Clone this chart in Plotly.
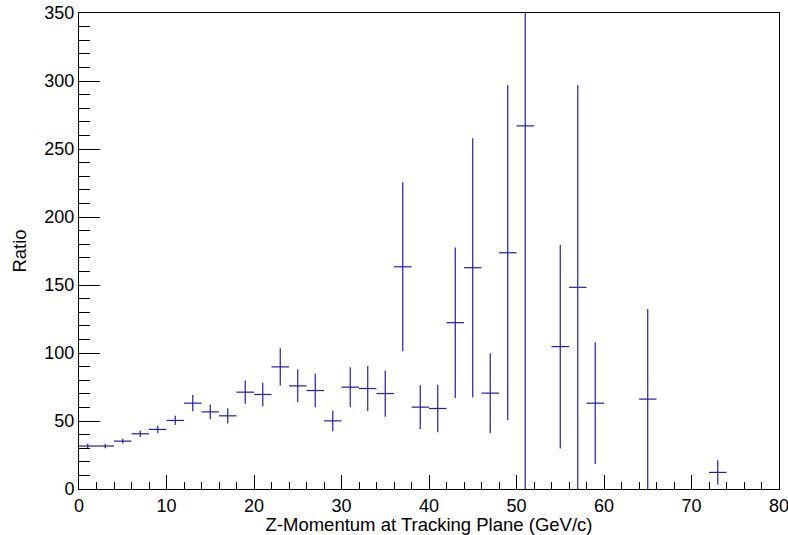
import plotly.graph_objects as go

# Bin centres (GeV/c), bin width 2 GeV/c; empty bins are left out
pz_centres = [1, 3, 5, 7, 9, 11, 13, 15, 17, 19, 21, 23, 25, 27, 29, 31, 33, 35,
              37, 39, 41, 43, 45, 47, 49, 51, 55, 57, 59, 65, 73]
ratio = [31.6, 31.6, 35.2, 40.6, 43.8, 50.4, 63.1, 56.7, 53.8, 71.2, 69.5, 89.8,
         75.8, 72.4, 50.1, 74.9, 73.9, 70.2, 163.4, 60.2, 59.2, 122.3, 162.7, 70.5,
         173.7, 267.0, 104.7, 148.3, 63.1, 66.1, 12.2]
ratio_err = [1.7, 1.7, 1.8, 2.4, 2.7, 3.4, 6.0, 5.5, 5.6, 8.6, 8.7, 13.7,
             12.0, 12.3, 7.7, 14.7, 16.5, 17.0, 62.2, 16.0, 17.4, 55.3, 95.2, 29.3,
             123.1, 280.0, 74.9, 148.5, 44.8, 66.3, 8.9]
half_bin = [1.0] * len(pz_centres)

line_col = "#1f1fa8"
font_family = "Liberation Sans, Arial, Helvetica, sans-serif"

fig = go.Figure(
    go.Scatter(
        x=pz_centres,
        y=ratio,
        mode="markers",
        marker=dict(size=1, color=line_col, opacity=0),
        error_x=dict(type="data", array=half_bin, symmetric=True,
                     color=line_col, thickness=1.2, width=0),
        error_y=dict(type="data", array=ratio_err, symmetric=True,
                     color=line_col, thickness=1.2, width=0),
        showlegend=False,
        hoverinfo="x+y",
    )
)

axis_common = dict(
    showline=True, linecolor="black", linewidth=1, mirror=True,
    ticks="inside", tickcolor="black", tickwidth=1,
    showgrid=False, zeroline=False, automargin=False,
    ticklabeloverflow="allow",
    tickfont=dict(family=font_family, size=18, color="black"),
)

fig.update_xaxes(
    range=[0, 80], tick0=0, dtick=10, ticklen=14,
    minor=dict(ticks="inside", dtick=2, ticklen=7, tickcolor="black", showgrid=False),
    title=dict(text="Z-Momentum at Tracking Plane (GeV/c)",
               font=dict(family=font_family, size=18.5, color="black"), standoff=3),
    **axis_common,
)
fig.update_yaxes(
    range=[0, 350], tick0=0, dtick=50, ticklen=21,
    minor=dict(ticks="inside", dtick=10, ticklen=11, tickcolor="black", showgrid=False),
    title=dict(text="Ratio",
               font=dict(family=font_family, size=18.5, color="black"), standoff=12),
    **axis_common,
)

fig.update_layout(
    width=788, height=535,
    margin=dict(l=79, r=9, t=13, b=46),
    paper_bgcolor="white", plot_bgcolor="white",
)

fig.write_html("out.html")
